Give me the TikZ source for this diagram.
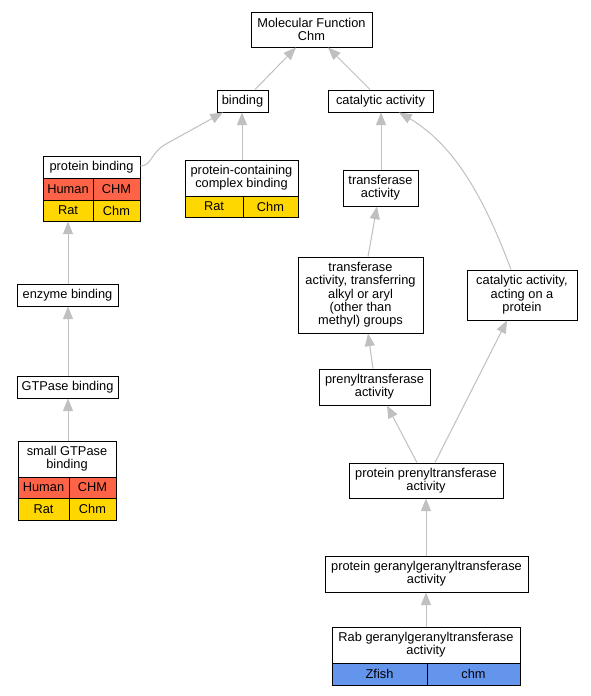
\documentclass[tikz,border=0pt]{standalone}
\usepackage{fontspec}
\setmainfont{Liberation Sans}
\usetikzlibrary{arrows.meta}
\definecolor{edgegray}{HTML}{C0C0C0}
\definecolor{hum}{HTML}{FF6347}
\definecolor{rat}{HTML}{FFD700}
\definecolor{zf}{HTML}{6495ED}
\tikzset{
  gbox/.style={draw=black, fill=white, line width=0.7pt, inner sep=0pt, align=center,
    font=\fontsize{9.6}{10}\selectfont},
  gtext/.style={inner sep=0pt, align=center, font=\fontsize{9.6}{10}\selectfont},
  gcell/.style={draw=black, line width=0.7pt, inner sep=0pt, align=center,
    font=\fontsize{9.6}{10}\selectfont},
  edge/.style={draw=edgegray, line width=0.75pt, -{Triangle[length=9.5pt,width=7.5pt]}}
}
\newcommand\gbx[6]{\node[gbox, minimum width={(#4-#2)*0.75pt}, minimum height={(#5-#3)*0.75pt}] (#1) at ({(#2+#4)/2},{(#3+#5)/2}) {#6};}
\newcommand\tbx[7]{\node[gbox, minimum width={(#4-#2)*0.75pt}, minimum height={(#5-#3)*0.75pt}] (#1) at ({(#2+#4)/2},{(#3+#5)/2}) {};
  \node[gtext] (#1-h) at ({(#2+#4)/2},{(#3+#6)/2}) {#7};}
\newcommand\cel[7]{\node[gcell, fill=#6, minimum width={(#4-#2)*0.75pt}, minimum height={(#5-#3)*0.75pt}] (#1) at ({(#2+#4)/2},{(#3+#5)/2}) {#7};}
\begin{document}
\begin{tikzpicture}[x=0.75pt, y=-0.75pt]
\useasboundingbox[fill=white] (0,0) rectangle (591,696);
% plain boxes
\gbx{MF}{251}{12}{372}{47}{Molecular Function\\Chm}
\gbx{binding}{217}{90}{268}{112}{binding}
\gbx{cat}{328}{90}{433}{112}{catalytic activity}
\gbx{trans}{343}{170}{418}{206}{transferase\\activity}
\gbx{alkyl}{298}{257}{423}{333}{transferase\\activity, transferring\\alkyl or aryl\\(other than\\methyl) groups}
\gbx{acting}{467}{270}{577}{320}{catalytic activity,\\acting on a\\protein}
\gbx{enzyme}{17}{284}{118}{306}{enzyme binding}
\gbx{gtpase}{17}{376}{118}{398}{GTPase binding}
\gbx{prenyl}{319}{369}{430}{405}{prenyltransferase\\activity}
\gbx{pp}{349}{463}{503}{498}{protein prenyltransferase\\activity}
\gbx{pgg}{325}{556}{528}{592}{protein geranylgeranyltransferase\\activity}
% table boxes
\tbx{pb}{43}{156}{140}{221}{178}{protein binding}
\cel{pb-1}{43}{178}{93}{200}{hum}{Human}
\cel{pb-2}{93}{178}{140}{200}{hum}{CHM}
\cel{pb-3}{43}{200}{93}{221}{rat}{Rat}
\cel{pb-4}{93}{200}{140}{221}{rat}{Chm}
\tbx{pcb}{185}{160}{298}{217}{196}{protein-containing\\complex binding}
\cel{pcb-1}{185}{196}{243}{217}{rat}{Rat}
\cel{pcb-2}{243}{196}{298}{217}{rat}{Chm}
\tbx{small}{18}{441}{116}{520}{477}{small GTPase\\binding}
\cel{small-1}{18}{477}{69}{498}{hum}{Human}
\cel{small-2}{69}{477}{116}{498}{hum}{CHM}
\cel{small-3}{18}{498}{69}{520}{rat}{Rat}
\cel{small-4}{69}{498}{116}{520}{rat}{Chm}
\tbx{rab}{332}{627}{520}{685}{663}{Rab geranylgeranyltransferase\\activity}
\cel{rab-1}{332}{663}{427}{685}{zf}{Zfish}
\cel{rab-2}{427}{663}{520}{685}{zf}{chm}
% edges
\draw[edge] (255,0 |- binding.north) -- (296,0 |- MF.south);
\draw[edge] (370,0 |- cat.north) -- (328,0 |- MF.south);
\draw[edge] (pb.east |- 0,166) .. controls (152,166) and (150,153) .. (166,144) -- (223,0 |- binding.south);
\draw[edge] (242,0 |- pcb.north) -- (242,0 |- binding.south);
\draw[edge] (381,0 |- trans.north) -- (381,0 |- cat.south);
\draw[edge] (511,0 |- acting.north) .. controls (485,200) and (455,145) .. (399,0 |- cat.south);
\draw[edge] (368,0 |- alkyl.north) -- (377,0 |- trans.south);
\draw[edge] (68,0 |- enzyme.north) -- (68,0 |- pb.south);
\draw[edge] (68,0 |- gtpase.north) -- (68,0 |- enzyme.south);
\draw[edge] (68,0 |- small.north) -- (68,0 |- gtpase.south);
\draw[edge] (373,0 |- prenyl.north) -- (368,0 |- alkyl.south);
\draw[edge] (417,0 |- pp.north) -- (387,0 |- prenyl.south);
\draw[edge] (435,0 |- pp.north) -- (507,0 |- acting.south);
\draw[edge] (426,0 |- pgg.north) -- (426,0 |- pp.south);
\draw[edge] (426,0 |- rab.north) -- (426,0 |- pgg.south);
\end{tikzpicture}
\end{document}
